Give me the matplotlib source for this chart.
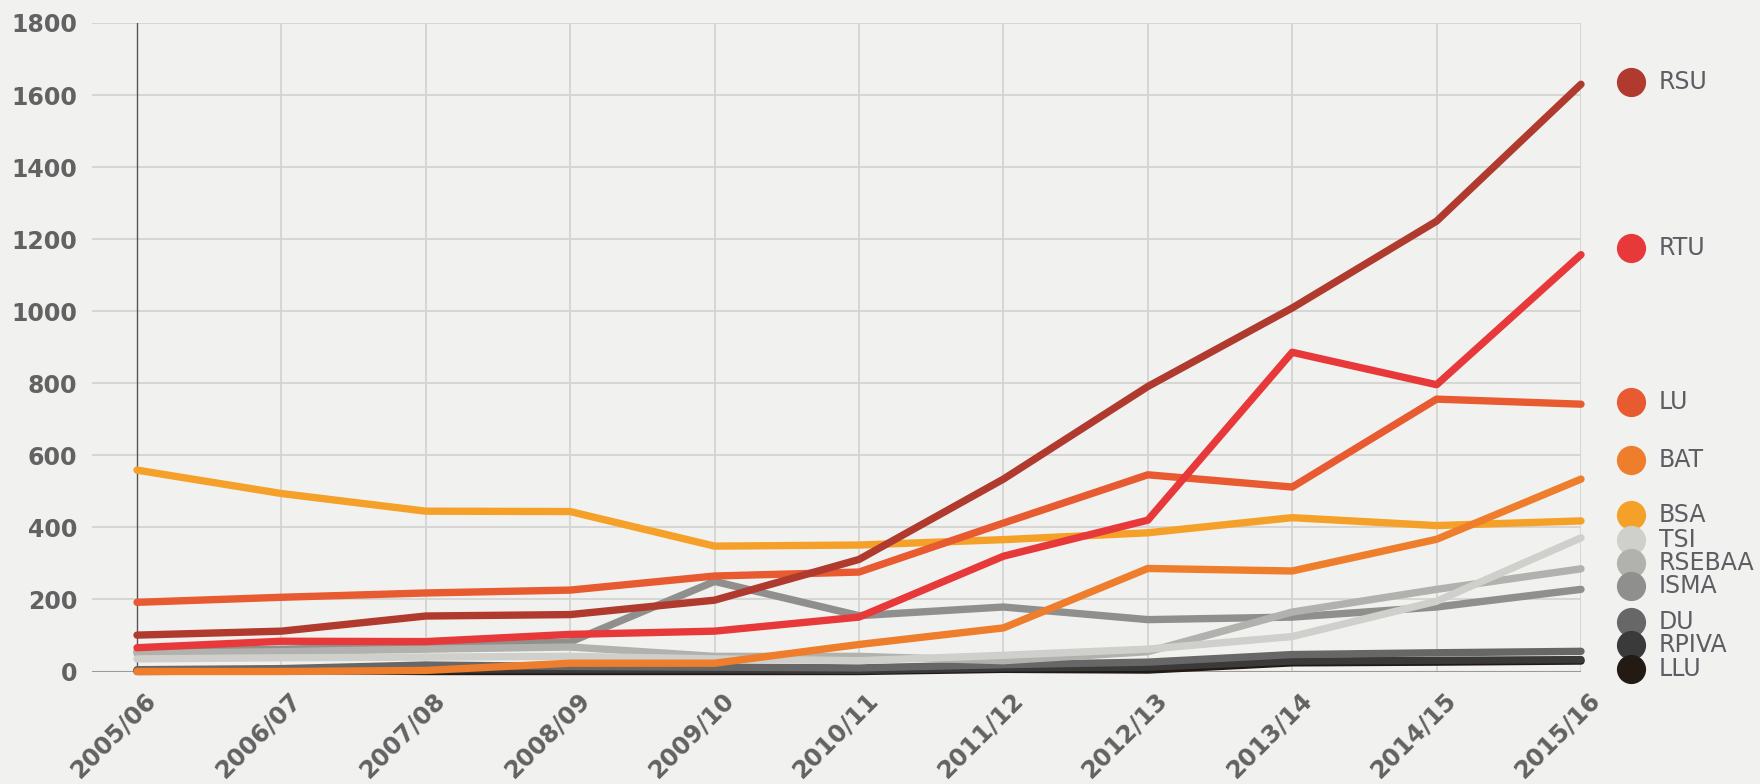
import matplotlib
matplotlib.use('Agg')
import matplotlib.pyplot as plt
from matplotlib.transforms import ScaledTranslation

seasons = ['2005/06', '2006/07', '2007/08', '2008/09', '2009/10', '2010/11',
           '2011/12', '2012/13', '2013/14', '2014/15', '2015/16']

# values
rsu = [101, 112, 154, 158, 198, 311, 534, 791, 1009, 1250, 1630]
rtu = [66, 84, 83, 103, 112, 151, 320, 420, 886, 796, 1157]
lu = [192, 206, 218, 226, 265, 276, 412, 546, 512, 756, 742]
bat = [0, 0, 3, 23, 23, 75, 121, 286, 279, 367, 534]
bsa = [559, 494, 445, 444, 348, 351, 366, 385, 427, 405, 418]
tsi = [35, 38, 40, 42, 35, 30, 45, 62, 97, 195, 371]
rsebaa = [50, 55, 62, 68, 42, 42, 30, 55, 165, 228, 285]
isma = [55, 62, 70, 82, 250, 155, 179, 144, 151, 179, 228]
du = [5, 8, 18, 14, 12, 10, 19, 26, 47, 52, 56]
rpiva = [0, 2, 5, 5, 5, 3, 10, 12, 29, 31, 33]
llu = [3, 3, 0, 0, 0, 0, 6, 4, 24, 26, 29]

names = ['RSU', 'RTU', 'LU', 'BAT', 'BSA', 'TSI', 'RSEBAA', 'ISMA', 'DU', 'RPIVA', 'LLU']
series = [rsu, rtu, lu, bat, bsa, tsi, rsebaa, isma, du, rpiva, llu]
colors = ['#b03a2e', '#e8393a', '#e85a30', '#ee7d2c', '#f5a129', '#cfcfcb',
          '#b1b1ae', '#8f908e', '#676767', '#3b3a3a', '#231a14']
# legend label heights (figure pixels from top)
label_y = [82, 248, 402, 460, 515, 540, 563, 586, 622, 645, 669]

W, H = 1760, 784
bg = '#f1f1ef'
fig = plt.figure(figsize=(W / 100, H / 100), dpi=100, facecolor=bg)
left, right, top, bottom = 92, 1581, 23, 671.5
ax = fig.add_axes([left / W, 1 - bottom / H, (right - left) / W, (bottom - top) / H])
ax.set_facecolor(bg)

x = list(range(len(seasons)))
ax.set_xlim(-(137 - left) / 144.4, 10)
ax.set_ylim(0, 1800)

for s in ax.spines.values():
    s.set_visible(False)

for v in range(200, 1801, 200):
    ax.axhline(v, color='#d4d4d2', lw=1.3, zorder=1)
for i in x[1:]:
    ax.axvline(i, color='#d4d4d2', lw=1.3, zorder=1)
ax.axvline(0, color='#555555', lw=1, zorder=2)
ax.axhline(0, color='#9a9a9a', lw=1.5, zorder=2)

for k in range(len(series) - 1, -1, -1):
    ax.plot(x, series[k], color=colors[k], lw=5.3, solid_capstyle='round',
            solid_joinstyle='round', clip_on=False, zorder=3 + len(series) - k)

ax.set_yticks(range(0, 1801, 200))
ax.set_yticklabels([str(v) for v in range(0, 1801, 200)])
ax.set_xticks(x)
ax.set_xticklabels(seasons)
ax.tick_params(length=0, labelsize=17, labelcolor='#626262')
ax.tick_params(axis='y', pad=10.5)
ax.tick_params(axis='x', pad=12)
for lab in ax.get_yticklabels():
    lab.set_fontweight('bold')
off = ScaledTranslation(0.07, 0, fig.dpi_scale_trans)
for lab in ax.get_xticklabels():
    lab.set_fontweight('bold')
    lab.set_fontsize(17.5)
    lab.set_rotation(45)
    lab.set_ha('right')
    lab.set_va('top')
    lab.set_rotation_mode('anchor')
    lab.set_transform(lab.get_transform() + off)

for name, c, yy in zip(names, colors, label_y):
    fy = 1 - yy / H
    ax.plot([1631 / W], [fy], 'o', ms=20, color=c, transform=fig.transFigure,
            clip_on=False, zorder=20)
    fig.text(1659 / W, fy, name, fontsize=17, color='#5d5e63', va='center', ha='left')

fig.savefig('out.png', dpi=100, facecolor=bg)
